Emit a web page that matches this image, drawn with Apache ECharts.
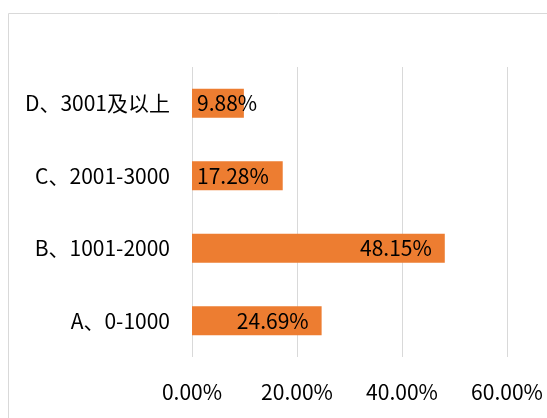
<!DOCTYPE html>
<html lang="zh">
<head>
<meta charset="UTF-8">
<title>收入分布</title>
<script src="https://cdn.jsdelivr.net/npm/echarts@6/dist/echarts.min.js"></script>
<style>
  html, body { margin: 0; padding: 0; background: #fff; }
  #main { width: 547px; height: 418px; }
</style>
</head>
<body>
<div id="main"></div>
<script type="text/javascript">
    // 数据
    var categories = ['A、0-1000', 'B、1001-2000', 'C、2001-3000', 'D、3001及以上'];
    var shares = [24.69, 48.15, 17.28, 9.88];
    var tickLabels = ['0.00%', '20.00%', '40.00%', '60.00%'];

    var font = '"Noto Sans CJK SC", "Noto Sans", sans-serif';
    var fs = 21;

    var myChart = echarts.init(document.getElementById('main'));

    // 小的数值标签放在条形左侧
    var barData = shares.map(function (v) {
        return {
            value: v,
            label: v < 20 ? { position: 'insideLeft', offset: [0, 0] } : { position: 'insideRight', offset: [-8, 0] }
        };
    });

    var option = {
        animation: false,
        graphic: [{
            type: 'rect',
            shape: { x: 8.5, y: 13.5, width: 600, height: 500 },
            style: { fill: 'none', stroke: '#d9d9d9', lineWidth: 1 },
            silent: true
        }],
        grid: { left: 192, right: 40, top: 67, bottom: 61, containLabel: false },
        xAxis: {
            type: 'value',
            min: 0,
            max: 60,
            interval: 20,
            axisLine: { show: false },
            axisTick: { show: false },
            axisLabel: {
                margin: 25,
                fontFamily: font,
                fontSize: fs,
                color: '#000',
                formatter: function (v) { return tickLabels[v / 20]; }
            },
            splitLine: { lineStyle: { color: '#d9d9d9', width: 1 } }
        },
        yAxis: {
            type: 'category',
            data: categories,
            axisLine: { show: false },
            axisTick: { show: false },
            axisLabel: {
                margin: 22,
                fontFamily: font,
                fontSize: fs,
                color: '#000'
            }
        },
        series: [{
            type: 'bar',
            data: barData,
            barWidth: 29,
            itemStyle: { color: '#ED7D31' },
            label: {
                show: true,
                fontFamily: font,
                fontSize: fs,
                color: '#000',
                formatter: function (p) { return p.value.toFixed(2) + '%'; }
            }
        }]
    };

    myChart.setOption(option);
</script>
</body>
</html>
